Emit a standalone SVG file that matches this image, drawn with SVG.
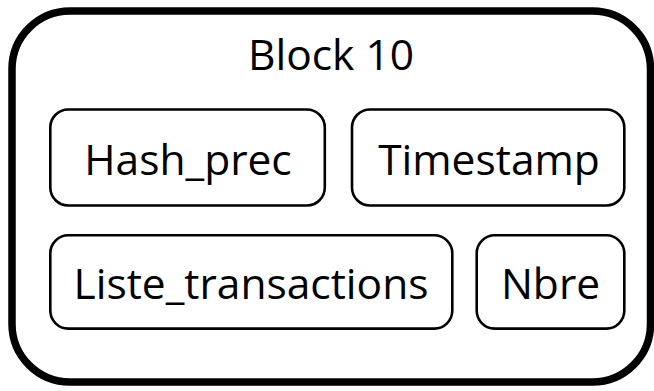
<svg xmlns="http://www.w3.org/2000/svg" width="654" height="391" viewBox="0 0 654 391">
<style>
.outer{fill:#fff;stroke:#000;stroke-width:7.5}
.box{fill:#fff;stroke:#000;stroke-width:2.6}
.t{font-family:"Open Sans","Liberation Sans",sans-serif;font-size:42.5px;fill:#000;text-anchor:middle}
</style>
<rect width="654" height="391" fill="#fff"/>
<g id="block10">
<rect class="outer" x="12" y="11" width="638.5" height="371" rx="58" ry="58"/>
<text class="t" x="331" y="70">Block 10</text>
</g>
<g id="hash_prec">
<rect class="box" x="50.3" y="109.5" width="274.5" height="96" rx="18" ry="18"/>
<text class="t" x="188" y="175">Hash_prec</text>
</g>
<g id="timestamp">
<rect class="box" x="352" y="109.5" width="272.3" height="96" rx="18" ry="18"/>
<text class="t" x="489" y="175">Timestamp</text>
</g>
<g id="liste_transactions">
<rect class="box" x="50.3" y="235.3" width="402" height="93.3" rx="18" ry="18"/>
<text class="t" x="251" y="299">Liste_transactions</text>
</g>
<g id="nbre">
<rect class="box" x="476.7" y="235.3" width="147.6" height="93.3" rx="18" ry="18"/>
<text class="t" x="550.5" y="299">Nbre</text>
</g>
<g id="connectors"></g>
</svg>
